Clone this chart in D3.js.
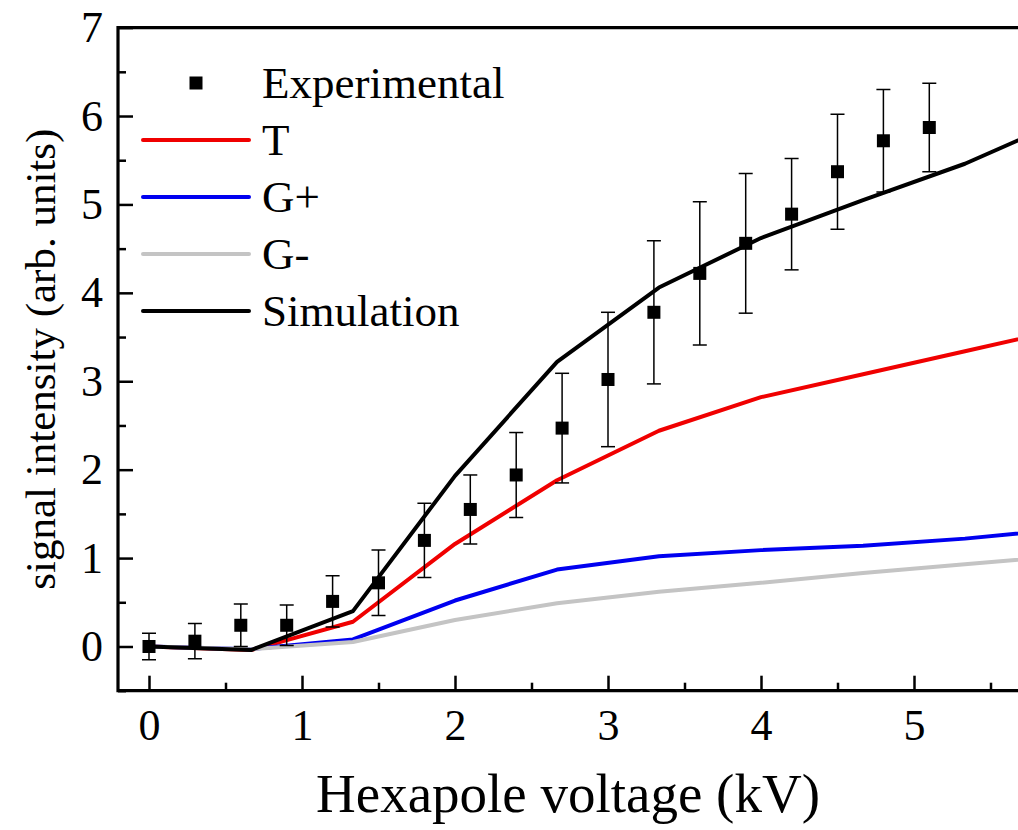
<!DOCTYPE html>
<html>
<head>
<meta charset="utf-8">
<script src="https://cdn.jsdelivr.net/npm/d3@7"></script>
<style>
  body { margin: 0; background: #fff; }
  svg { display: block; font-family: "Liberation Serif", "Times New Roman", serif; }
</style>
</head>
<body>
<div id="chart"></div>
<script>
// experimental points (kV, signal, error)
const expX = [0, 0.3, 0.6, 0.9, 1.2, 1.5, 1.8, 2.1, 2.4, 2.7, 3.0, 3.3, 3.6, 3.9, 4.2, 4.5, 4.8, 5.1];
const expY = [0.00, 0.06, 0.24, 0.24, 0.51, 0.72, 1.20, 1.55, 1.94, 2.47, 3.02, 3.78, 4.22, 4.56, 4.89, 5.37, 5.72, 5.87];
const expErr = [0.15, 0.20, 0.24, 0.23, 0.29, 0.37, 0.42, 0.39, 0.48, 0.62, 0.76, 0.81, 0.81, 0.79, 0.63, 0.65, 0.58, 0.50];

// simulated curves
const simX = [0, 0.667, 1.333, 2.0, 2.667, 3.333, 4.0, 4.667, 5.333, 6.0];
const tY = [0, -0.04, 0.28, 1.16, 1.88, 2.44, 2.82, 3.08, 3.34, 3.60];
const gPlusY = [0, -0.03, 0.08, 0.52, 0.87, 1.02, 1.09, 1.14, 1.22, 1.33];
const gMinusY = [0, -0.03, 0.05, 0.30, 0.49, 0.62, 0.72, 0.83, 0.93, 1.03];
const simY = [0, -0.04, 0.40, 1.93, 3.22, 4.06, 4.62, 5.05, 5.46, 5.97];

const xTicks = [0, 1, 2, 3, 4, 5];
const xMinor = [0.5, 1.5, 2.5, 3.5, 4.5, 5.5];
const yTicks = [0, 1, 2, 3, 4, 5, 6, 7];
const yMinor = [-0.5, 0.5, 1.5, 2.5, 3.5, 4.5, 5.5, 6.5];

const series = [
  {name: "T", y: tY, color: "#f00000"},
  {name: "G+", y: gPlusY, color: "#0000f0"},
  {name: "G-", y: gMinusY, color: "#c4c4c4"},
  {name: "Simulation", y: simY, color: "#000000"}
];

const W = 1018, H = 830;
const pLeft = 118, pRight = 1018, pTop = 27.6, pBottom = 690.7;

const svg = d3.select("#chart").append("svg")
  .attr("width", W).attr("height", H);

svg.append("rect").attr("width", W).attr("height", H).attr("fill", "#fff");

const x = d3.scaleLinear().domain([0, 5]).range([149, 914]);
const y = d3.scaleLinear().domain([-0.5, 7]).range([pBottom, pTop]);

svg.append("clipPath").attr("id", "plot")
  .append("rect").attr("x", pLeft).attr("y", pTop).attr("width", pRight - pLeft).attr("height", pBottom - pTop);

const plot = svg.append("g").attr("clip-path", "url(#plot)");

const line = d3.line().x(d => x(d[0])).y(d => y(d[1]));

series.forEach(s => {
  plot.append("path")
    .datum(simX.map((v, i) => [v, s.y[i]]))
    .attr("d", line)
    .attr("fill", "none")
    .attr("stroke", s.color)
    .attr("stroke-width", 4)
    .attr("stroke-linejoin", "round");
});

const expData = expX.map((v, i) => ({x: v, y: expY[i], e: expErr[i]}));

const bars = plot.append("g").attr("stroke", "#000").attr("stroke-width", 1.5);
expData.forEach(d => {
  bars.append("line").attr("x1", x(d.x)).attr("x2", x(d.x))
    .attr("y1", y(d.y - d.e)).attr("y2", y(d.y + d.e));
  [d.y - d.e, d.y + d.e].forEach(v => {
    bars.append("line").attr("x1", x(d.x) - 7).attr("x2", x(d.x) + 7)
      .attr("y1", y(v)).attr("y2", y(v));
  });
});

plot.selectAll(".pt").data(expData).enter().append("rect")
  .attr("class", "pt")
  .attr("x", d => x(d.x) - 6.5).attr("y", d => y(d.y) - 6.5)
  .attr("width", 13).attr("height", 13)
  .attr("fill", "#000");

// axes
svg.append("g").attr("transform", `translate(0,${pBottom})`)
  .call(d3.axisBottom(x).tickValues(xTicks).tickSize(-15).tickPadding(18).tickFormat(d3.format("d")));
svg.append("g").attr("transform", `translate(0,${pBottom})`)
  .call(d3.axisBottom(x).tickValues(xMinor).tickSize(-8).tickFormat(""));
svg.append("g").attr("transform", `translate(${pLeft},0)`)
  .call(d3.axisLeft(y).tickValues(yTicks).tickSize(-15).tickPadding(15).tickFormat(d3.format("d")));
svg.append("g").attr("transform", `translate(${pLeft},0)`)
  .call(d3.axisLeft(y).tickValues(yMinor).tickSize(-8).tickFormat(""));

svg.selectAll(".domain").remove();
svg.selectAll(".tick line").attr("stroke", "#000").attr("stroke-width", 2.5);
svg.selectAll(".tick text").attr("font-size", 44).attr("font-family", "Liberation Serif, serif").attr("fill", "#000");

// frame
svg.append("path")
  .attr("d", `M${pRight},${pTop}H${pLeft}V${pBottom}H${pRight}`)
  .attr("fill", "none").attr("stroke", "#000").attr("stroke-width", 3.2);

// axis titles
svg.append("text")
  .attr("x", (pLeft + pRight) / 2).attr("y", 812)
  .attr("text-anchor", "middle").attr("font-size", 55)
  .text("Hexapole voltage (kV)");

svg.append("text")
  .attr("transform", `translate(55,${(pTop + pBottom) / 2}) rotate(-90)`)
  .attr("text-anchor", "middle").attr("font-size", 43)
  .text("signal intensity (arb. units)");

// legend
const legend = svg.append("g");
const legY0 = 83, legStep = 57;
legend.append("rect").attr("x", 196 - 6.5).attr("y", legY0 - 6.5).attr("width", 13).attr("height", 13).attr("fill", "#000");
legend.append("text").attr("x", 262).attr("y", legY0 + 15).attr("font-size", 45).text("Experimental");
series.forEach((s, i) => {
  const ly = legY0 + legStep * (i + 1);
  legend.append("line").attr("x1", 143).attr("x2", 249).attr("y1", ly).attr("y2", ly)
    .attr("stroke", s.color).attr("stroke-width", 4).attr("stroke-linecap", "round");
  legend.append("text").attr("x", 262).attr("y", ly + 15).attr("font-size", 45).text(s.name);
});
</script>
</body>
</html>
